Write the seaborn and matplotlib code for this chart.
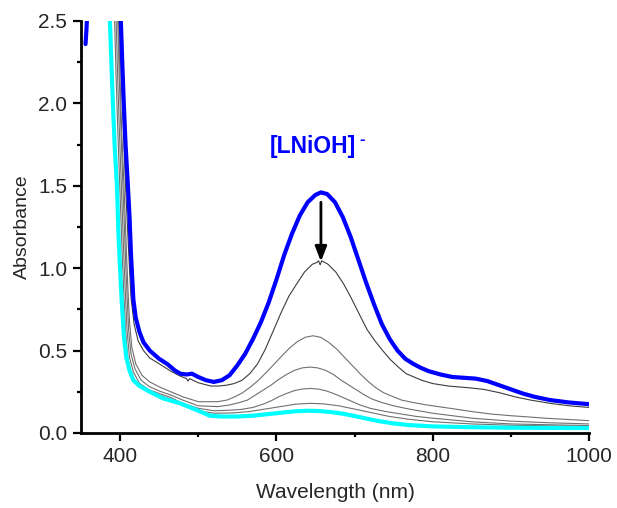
import numpy as np
import pandas as pd
import matplotlib
matplotlib.use("Agg")
import matplotlib.pyplot as plt
from matplotlib.ticker import MultipleLocator, FormatStrFormatter
import seaborn as sns

# UV-vis spectra recorded during the decay of [LNiOH]- (first scan = blue, last scan = cyan)
wl_scan1_hi = [355.8, 357.0, 358.5]
abs_scan1_hi = [2.36, 2.45, 2.60]

wl_scan1 = [399, 401, 403, 405, 407, 410, 412, 414, 417, 420, 425, 430, 438, 450, 460,
            470, 477, 485, 492, 500, 510, 520, 530, 540, 550, 560, 570, 580, 590, 600,
            610, 620, 630, 640, 650, 657, 665, 675, 685, 695, 705, 715, 725, 735, 745,
            755, 765, 775, 785, 795, 810, 825, 840, 855, 870, 885, 900, 915, 930, 950,
            975, 1000]
abs_scan1 = [2.75, 2.50, 2.22, 1.97, 1.75, 1.50, 1.32, 1.08, 0.81, 0.70, 0.61, 0.55, 0.50, 0.45, 0.42,
             0.38, 0.36, 0.355, 0.36, 0.34, 0.32, 0.31, 0.32, 0.35, 0.41, 0.48, 0.57, 0.67, 0.79, 0.93,
             1.08, 1.21, 1.32, 1.40, 1.445, 1.46, 1.45, 1.40, 1.31, 1.19, 1.05, 0.91, 0.78, 0.66, 0.57,
             0.50, 0.45, 0.42, 0.395, 0.375, 0.355, 0.34, 0.335, 0.33, 0.315, 0.29, 0.265, 0.24, 0.22, 0.20,
             0.185, 0.175]

wl_scan2 = [397, 399, 401, 403, 405, 407, 409, 411, 414, 418, 423, 430, 438, 450, 465,
            477, 485, 487, 489, 500, 516, 526, 536, 546, 556, 566, 576, 586, 596, 606,
            616, 626, 636, 646, 652, 654, 656, 658, 666, 676, 686, 696, 706, 716, 726,
            736, 746, 756, 766, 776, 786, 800, 820, 845, 865, 885, 905, 925, 950, 975,
            1000]
abs_scan2 = [2.80, 2.50, 2.25, 2.00, 1.75, 1.50, 1.30, 1.10, 0.82, 0.66, 0.56, 0.50, 0.455, 0.42, 0.375,
             0.345, 0.33, 0.315, 0.33, 0.305, 0.285, 0.285, 0.29, 0.30, 0.32, 0.36, 0.42, 0.51, 0.62, 0.73,
             0.83, 0.905, 0.977, 1.024, 1.035, 1.045, 1.02, 1.045, 1.024, 0.977, 0.905, 0.817, 0.722, 0.628, 0.56,
             0.50, 0.445, 0.40, 0.36, 0.34, 0.32, 0.30, 0.285, 0.275, 0.265, 0.245, 0.22, 0.20, 0.18, 0.165,
             0.155]

wl_scan3 = [396, 398, 400, 402, 405, 408, 410, 412, 415, 420, 428, 438, 450, 465, 480,
            500, 510, 525, 537, 547, 557, 567, 577, 587, 597, 607, 617, 627, 637, 647,
            657, 667, 677, 687, 697, 707, 717, 727, 737, 747, 760, 775, 790, 800, 825,
            850, 875, 900, 950, 1000]
abs_scan3 = [2.80, 2.50, 2.15, 1.85, 1.50, 1.12, 0.88, 0.68, 0.52, 0.42, 0.35, 0.31, 0.28, 0.25, 0.22,
             0.19, 0.19, 0.19, 0.20, 0.22, 0.245, 0.28, 0.32, 0.367, 0.417, 0.468, 0.516, 0.555, 0.581, 0.59,
             0.58, 0.55, 0.51, 0.46, 0.41, 0.36, 0.315, 0.275, 0.245, 0.225, 0.20, 0.185, 0.172, 0.165, 0.148,
             0.13, 0.115, 0.105, 0.088, 0.075]

wl_scan4 = [395, 397, 399, 401, 404, 407, 409, 411, 414, 419, 427, 438, 450, 465, 480,
            500, 525, 540, 553, 563, 573, 583, 593, 603, 613, 623, 633, 643, 653, 663,
            673, 683, 693, 703, 713, 723, 735, 750, 770, 800, 850, 900, 950, 1000]
abs_scan4 = [2.80, 2.50, 2.15, 1.85, 1.45, 1.05, 0.82, 0.62, 0.48, 0.39, 0.32, 0.28, 0.255, 0.23, 0.20,
             0.165, 0.16, 0.17, 0.185, 0.20, 0.23, 0.26, 0.29, 0.325, 0.355, 0.38, 0.395, 0.40, 0.395, 0.38,
             0.355, 0.32, 0.29, 0.26, 0.23, 0.205, 0.185, 0.165, 0.145, 0.12, 0.09, 0.072, 0.062, 0.055]

wl_scan5 = [393, 395, 397, 399, 402, 405, 407, 409, 412, 417, 425, 438, 450, 465, 480,
            500, 520, 535, 555, 570, 583, 593, 603, 613, 623, 633, 643, 653, 663, 673,
            683, 695, 707, 720, 740, 760, 780, 800, 850, 900, 1000]
abs_scan5 = [2.80, 2.50, 2.15, 1.85, 1.45, 1.05, 0.82, 0.62, 0.46, 0.37, 0.30, 0.26, 0.24, 0.215, 0.18,
             0.15, 0.135, 0.137, 0.143, 0.155, 0.175, 0.195, 0.22, 0.24, 0.257, 0.267, 0.27, 0.267, 0.257, 0.24,
             0.22, 0.195, 0.17, 0.15, 0.13, 0.115, 0.10, 0.09, 0.068, 0.055, 0.045]

wl_scan6 = [391, 393, 395, 397, 400, 403, 405, 407, 410, 415, 423, 438, 450, 465, 480,
            500, 520, 545, 565, 585, 605, 625, 643, 660, 680, 700, 720, 745, 770, 800,
            850, 900, 1000]
abs_scan6 = [2.80, 2.50, 2.15, 1.85, 1.45, 1.05, 0.82, 0.62, 0.45, 0.35, 0.29, 0.25, 0.23, 0.205, 0.17,
             0.135, 0.12, 0.122, 0.13, 0.145, 0.16, 0.175, 0.18, 0.177, 0.165, 0.145, 0.125, 0.10, 0.083, 0.068,
             0.055, 0.047, 0.04]

wl_scan7 = [385, 387, 390, 393, 396, 398, 400, 402, 405, 408, 412, 417, 425, 438, 455,
            477, 495, 515, 530, 550, 570, 590, 610, 625, 640, 655, 670, 685, 700, 715,
            730, 750, 770, 800, 850, 900, 1000]
abs_scan7 = [2.75, 2.50, 2.10, 1.75, 1.50, 1.20, 1.00, 0.81, 0.58, 0.46, 0.38, 0.32, 0.285, 0.25, 0.21,
             0.18, 0.145, 0.105, 0.10, 0.10, 0.105, 0.115, 0.125, 0.132, 0.135, 0.133, 0.127, 0.117, 0.103, 0.088,
             0.073, 0.058, 0.048, 0.04, 0.035, 0.032, 0.03]

series = [
    ("scan 1", "hi", wl_scan1_hi, abs_scan1_hi),
    ("scan 1", "main", wl_scan1, abs_scan1),
    ("scan 2", "main", wl_scan2, abs_scan2),
    ("scan 3", "main", wl_scan3, abs_scan3),
    ("scan 4", "main", wl_scan4, abs_scan4),
    ("scan 5", "main", wl_scan5, abs_scan5),
    ("scan 6", "main", wl_scan6, abs_scan6),
    ("scan 7", "main", wl_scan7, abs_scan7),
]
frames = []
for name, seg, wl, a in series:
    frames.append(pd.DataFrame({"Wavelength": wl, "Absorbance": a,
                                "scan": name, "segment": seg}))
df = pd.concat(frames, ignore_index=True)

palette = {"scan 1": "#0000ff", "scan 2": "#3c3c3c", "scan 3": "#707070",
           "scan 4": "#707070", "scan 5": "#707070", "scan 6": "#707070",
           "scan 7": "#00ffff"}
widths = {"scan 1": 3.0, "scan 2": 0.8, "scan 3": 0.8, "scan 4": 0.8,
          "scan 5": 0.8, "scan 6": 0.8, "scan 7": 3.0}
order = ["scan 2", "scan 3", "scan 4", "scan 5", "scan 6", "scan 7", "scan 1"]

sns.set_style("ticks")
plt.rcParams["font.family"] = ["Liberation Sans", "DejaVu Sans"]

fig = plt.figure(figsize=(6.17, 5.08), dpi=100)
ax = fig.add_axes([81 / 617, 75 / 508, 508 / 617, 412 / 508])

sns.lineplot(data=df, x="Wavelength", y="Absorbance", hue="scan", size="scan",
             units="segment", estimator=None, sort=False,
             palette=palette, sizes=widths, hue_order=order, size_order=order,
             legend=False, ax=ax)
for line in ax.get_lines():
    line.set_solid_joinstyle("round")

ax.set_xlim(350, 1000)
ax.set_ylim(0, 2.5)
ax.xaxis.set_major_locator(MultipleLocator(200))
ax.xaxis.set_minor_locator(MultipleLocator(100))
ax.yaxis.set_major_locator(MultipleLocator(0.5))
ax.yaxis.set_minor_locator(MultipleLocator(0.25))
ax.yaxis.set_major_formatter(FormatStrFormatter("%.1f"))

for side in ("top", "right"):
    ax.spines[side].set_visible(False)
for side in ("left", "bottom"):
    ax.spines[side].set_linewidth(2.0)
    ax.spines[side].set_color("black")
ax.tick_params(which="major", direction="out", length=6, width=1.6,
               labelsize=15, pad=4, color="black")
ax.tick_params(which="minor", direction="out", length=3, width=1.6, color="black")

ax.set_xlabel("Wavelength (nm)", fontsize=15, labelpad=12)
ax.set_ylabel("Absorbance", fontsize=14, labelpad=5)

# label of the starting species with a superscript charge
lbl = ax.text(592, 1.70, "[LNiOH]", color="#0000ff", fontsize=16.5,
              fontweight="bold", ha="left", va="baseline")
ax.annotate("-", xy=(1.0, 0.80), xycoords=lbl, xytext=(2.0, 0),
            textcoords="offset points", color="#0000ff", fontsize=12,
            fontweight="bold", ha="left", va="center")

# arrow marking the decrease of the 657 nm band
ax.annotate("", xy=(657, 1.04), xytext=(657, 1.40),
            arrowprops=dict(arrowstyle="-|>,head_length=0.9,head_width=0.35",
                            color="black", lw=2.0, shrinkA=0, shrinkB=0))

fig.savefig("out.png", dpi=100)
